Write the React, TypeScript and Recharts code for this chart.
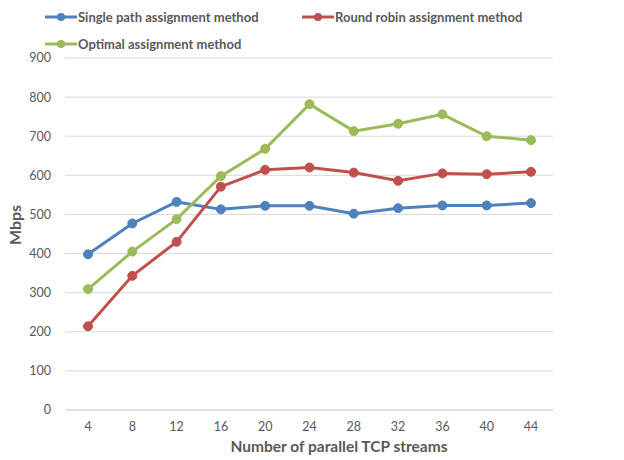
import { LineChart, Line, XAxis, YAxis, CartesianGrid, Legend } from "recharts";

// streams and measured throughput (Mbps)
const streams = [4, 8, 12, 16, 20, 24, 28, 32, 36, 40, 44];
const singlePath = [398, 477, 532, 513, 522, 522, 502, 516, 523, 523, 529];
const roundRobin = [214, 343, 430, 571, 614, 620, 607, 586, 605, 603, 609];
const optimal = [309, 405, 488, 598, 668, 782, 713, 732, 756, 700, 690];
const yTicks = [0, 100, 200, 300, 400, 500, 600, 700, 800, 900];

const series = [
  { key: "single", name: "Single path assignment method", color: "#4f81bd" },
  { key: "robin", name: "Round robin assignment method", color: "#c0504d" },
  { key: "optimal", name: "Optimal assignment method", color: "#9bbb59" },
];

const data = streams.map((s, i) => ({
  streams: s,
  single: singlePath[i],
  robin: roundRobin[i],
  optimal: optimal[i],
}));

const FONT = "Lato, 'Noto Sans', sans-serif";
const GREY = "#595959";

function LegendBox() {
  return (
    <div style={{ display: "flex", flexWrap: "wrap", paddingLeft: 45, fontFamily: FONT }}>
      {series.map((s) => (
        <div key={s.key} style={{ width: 257, height: 27, display: "flex", alignItems: "center" }}>
          <svg width={32} height={12} style={{ marginRight: 1 }}>
            <line x1={0} y1={6} x2={32} y2={6} stroke={s.color} strokeWidth={3} />
            <circle cx={16} cy={6} r={4} fill={s.color} />
          </svg>
          <span style={{ fontSize: 13, fontWeight: 700, color: GREY }}>{s.name}</span>
        </div>
      ))}
    </div>
  );
}

export default function App() {
  return (
    <>
      <style>{`body { margin: 0; }`}</style>
      <LineChart
        width={624}
        height={460}
        data={data}
        margin={{ top: 58, right: 71, bottom: 10, left: 5 }}
        style={{ fontFamily: FONT }}
      >
        <CartesianGrid vertical={false} stroke="#d9d9d9" strokeWidth={1} />
        <XAxis
          dataKey="streams"
          height={40}
          padding={{ left: 23, right: 22 }}
          axisLine={{ stroke: "#d9d9d9" }}
          tickLine={false}
          tickMargin={6}
          tick={{ fill: GREY, fontSize: 12.5 }}
          label={{
            content: ({ viewBox }: any) => (
              <text
                x={viewBox.x + viewBox.width / 2 + 30}
                y={452}
                textAnchor="middle"
                fill={GREY}
                fontSize={15.5}
                fontWeight={700}
              >
                Number of parallel TCP streams
              </text>
            ),
          }}
        />
        <YAxis
          width={60}
          domain={[0, 900]}
          ticks={yTicks}
          axisLine={false}
          tickLine={false}
          tickMargin={8}
          tick={{ fill: GREY, fontSize: 12.5 }}
          label={{
            content: ({ viewBox }: any) => {
              const cx = 14;
              const cy = viewBox.y + viewBox.height / 2 - 9;
              return (
                <text
                  x={cx}
                  y={cy}
                  transform={`rotate(-90 ${cx} ${cy})`}
                  textAnchor="middle"
                  dominantBaseline="central"
                  fill={GREY}
                  fontSize={16}
                  fontWeight={700}
                >
                  Mbps
                </text>
              );
            },
          }}
        />
        <Legend
          layout="vertical"
          align="center"
          verticalAlign="middle"
          wrapperStyle={{ top: 3, left: 0, width: 624 }}
          content={() => <LegendBox />}
        />
        {series.map((s) => (
          <Line
            key={s.key}
            dataKey={s.key}
            name={s.name}
            stroke={s.color}
            strokeWidth={3}
            dot={{ r: 4.5, fill: s.color, stroke: s.color, strokeWidth: 1 }}
            isAnimationActive={false}
          />
        ))}
      </LineChart>
    </>
  );
}
